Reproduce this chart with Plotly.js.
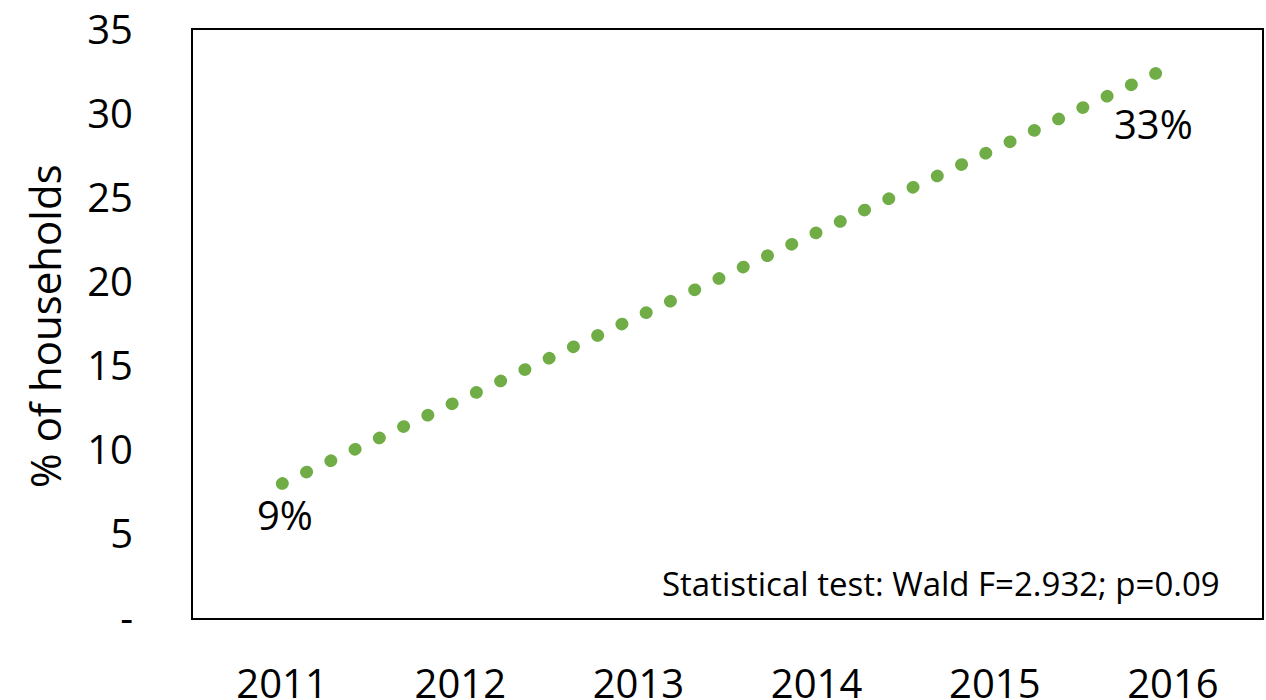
<!DOCTYPE html>
<html>
<head>
<meta charset="utf-8">
<script src="https://cdn.plot.ly/plotly-3.0.1.min.js"></script>
<style>
  html, body { margin: 0; padding: 0; background: #fff; }
  #chart { width: 1266px; height: 700px; }
  .scatterlayer .js-line { stroke-linecap: round !important; }
</style>
</head>
<body>
<div id="chart"></div>
<script>
// Data
const years = [2011, 2016];
const householdsPct = [8.0, 32.9];
const endLabels = ["9%", "33%"];
const yTickVals = [0, 5, 10, 15, 20, 25, 30, 35];
const yTickText = ["-", "5", "10", "15", "20", "25", "30", "35"];
const xTickVals = [2011, 2012, 2013, 2014, 2015, 2016];
const yTitle = "% of households";
const statText = "Statistical test: Wald F=2.932; p=0.09";

const FONT = "Open Sans, Noto Sans, sans-serif";
const green = "#70AD47";

const trace = {
  x: years,
  y: householdsPct,
  type: "scatter",
  mode: "lines",
  line: { color: green, width: 12.5, dash: "0.5px,26.3px" },
  hoverinfo: "skip",
  showlegend: false
};

const layout = {
  width: 1266,
  height: 700,
  margin: { l: 193, r: 4, t: 30, b: 82 },
  paper_bgcolor: "#ffffff",
  plot_bgcolor: "#ffffff",
  font: { family: FONT, color: "#000000" },
  showlegend: false,
  xaxis: {
    range: [2010.5, 2016.5],
    tickvals: xTickVals,
    ticktext: xTickVals.map(String),
    ticks: "",
    showgrid: false,
    zeroline: false,
    showline: true,
    mirror: true,
    linecolor: "#000000",
    linewidth: 2,
    tickfont: { family: FONT, size: 40, color: "#000" },
    ticklabelstandoff: 30,
    fixedrange: true
  },
  yaxis: {
    range: [0, 35],
    tickvals: yTickVals,
    ticktext: yTickText,
    ticks: "",
    showgrid: false,
    zeroline: false,
    showline: true,
    mirror: true,
    linecolor: "#000000",
    linewidth: 2,
    tickfont: { family: FONT, size: 40, color: "#000" },
    ticklabelstandoff: 50,
    fixedrange: true
  },
  annotations: [
    {
      x: years[0], y: householdsPct[0], xref: "x", yref: "y",
      text: endLabels[0], showarrow: false,
      xshift: 3, yshift: -31,
      font: { family: FONT, size: 40, color: "#000" }
    },
    {
      x: years[1], y: householdsPct[1], xref: "x", yref: "y",
      text: endLabels[1], showarrow: false,
      xshift: -19, yshift: -58,
      font: { family: FONT, size: 40, color: "#000" }
    },
    {
      x: 1, y: 0, xref: "paper", yref: "paper",
      xanchor: "right", yanchor: "middle",
      xshift: -40, yshift: 35,
      text: statText, showarrow: false,
      font: { family: FONT, size: 33, color: "#000" }
    },
    {
      x: 0, y: 0.5, xref: "paper", yref: "paper",
      xanchor: "center", yanchor: "middle",
      xshift: -149, yshift: -2,
      textangle: -90,
      text: yTitle, showarrow: false,
      font: { family: FONT, size: 42, color: "#000" }
    }
  ]
};

Plotly.newPlot("chart", [trace], layout, { displayModeBar: false, staticPlot: true });
</script>
</body>
</html>
